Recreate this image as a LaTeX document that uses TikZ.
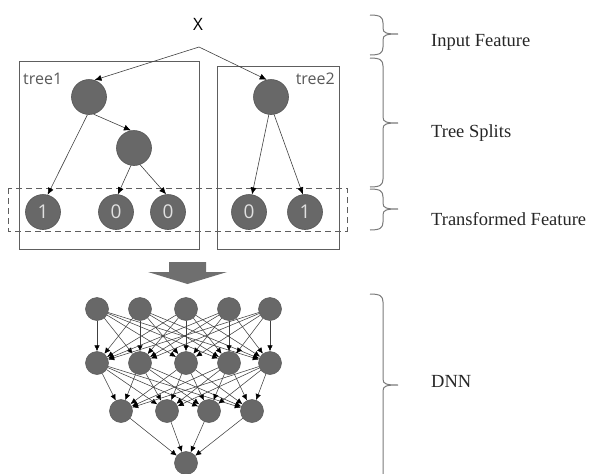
\documentclass[tikz,border=0pt]{standalone}
\usepackage{fontspec}
\setmainfont{Liberation Serif}
\newfontfamily\labelsans{Open Sans}
\usetikzlibrary{arrows.meta}

\definecolor{nodegray}{HTML}{686868}
\definecolor{rimgray}{HTML}{555555}
\definecolor{linegray}{HTML}{404040}
\definecolor{boxgray}{HTML}{5E5E5E}
\definecolor{bracegray}{HTML}{7A7A7A}

\tikzset{
  treenode/.style={circle, fill=nodegray, draw=rimgray, line width=0.6pt,
                   minimum size=35pt, inner sep=0pt, text=white!88!black,
                   font=\labelsans\fontsize{19}{20}\selectfont},
  dnnnode/.style={circle, fill=nodegray, draw=rimgray, line width=0.5pt,
                  minimum size=23pt, inner sep=0pt},
  treearrow/.style={draw=linegray, line width=0.6pt,
                    -{Latex[length=7pt,width=6pt,color=black]}},
  dnnarrow/.style={draw=linegray, line width=0.55pt,
                   -{Latex[length=6pt,width=5.5pt,color=black]}},
  treebox/.style={draw=boxgray, line width=1pt},
  featbox/.style={draw=boxgray, line width=0.9pt, dash pattern=on 6pt off 4pt},
  sidebrace/.style={draw=bracegray, line width=1pt},
  sidelabel/.style={anchor=base west, inner sep=0pt, text=black!85,
                    font=\fontsize{18.5}{22}\selectfont},
  boxlabel/.style={inner sep=0pt, text=black!65,
                   font=\labelsans\fontsize{16}{18}\selectfont}
}

% right-pointing curly bracket: top, middle (tip) and bottom heights
\newcommand\rightbracket[3]{%
  \draw[sidebrace] (370,#1) .. controls (380,#1) and (383,#1+2) .. (383,#1+8)
    -- (383,#2-6) .. controls (383,#2-1) and (386,#2) .. (398,#2)
    .. controls (386,#2) and (383,#2+1) .. (383,#2+6)
    -- (383,#3-8) .. controls (383,#3-2) and (380,#3) .. (370,#3);}

\begin{document}
\begin{tikzpicture}[x=1pt, y=-1pt]
  \useasboundingbox (0,0) rectangle (595,474);

  % ---- tree part ----
  \draw[treebox] (19,61) rectangle (199,249);
  \draw[treebox] (217,66) rectangle (339,249);
  \draw[featbox] (8,188) rectangle (347,231);

  \node[boxlabel, anchor=base west] (t1lab) at (23,84) {tree1};
  \node[boxlabel, anchor=base east] (t2lab) at (335,84) {tree2};

  \node[anchor=base, font=\labelsans\fontsize{17}{18}\selectfont] (xlab) at (198,30) {X};
  \coordinate (xin) at (199,47);

  \node[treenode] (r1) at (89,97) {};
  \node[treenode] (n2) at (134,148) {};
  \node[treenode] (r2) at (271,97) {};

  \node[treenode] (l1) at (43,212) {1};
  \node[treenode] (l2) at (116,212) {0};
  \node[treenode] (l3) at (168,212) {0};
  \node[treenode] (l4) at (249,212) {0};
  \node[treenode] (l5) at (305,212) {1};

  \draw[treearrow] (xin) -- (r1.72);
  \draw[treearrow] (xin) -- (r2.104);
  \draw[treearrow] (r1.-75) -- (n2.100);
  \draw[treearrow] (r1.-95) -- (l1.75);
  \draw[treearrow] (n2.-100) -- (l2.84);
  \draw[treearrow] (n2.-70) -- (l3.96);
  \draw[treearrow] (r2.-97) -- (l4.80);
  \draw[treearrow] (r2.-80) -- (l5.97);

  % ---- block arrow into the network ----
  \fill[nodegray!95!white] (169,262) -- (206,262) -- (206,272) -- (227,272)
        -- (187.5,284) -- (148,272) -- (169,272) -- cycle;

  % ---- DNN ----
  \foreach \i/\x in {1/97,2/140,3/186,4/229,5/270} {
    \node[dnnnode] (a\i) at (\x,309) {};
    \node[dnnnode] (b\i) at (\x,363) {};
  }
  \foreach \i/\x in {1/121,2/167,3/209,4/252} {
    \node[dnnnode] (c\i) at (\x,411) {};
  }
  \node[dnnnode] (d1) at (186,463) {};

  \foreach \i in {1,...,5} {
    \foreach \j in {1,...,5} {
      \draw[dnnarrow] (a\i) -- (b\j);
    }
  }
  \foreach \i in {1,...,5} {
    \foreach \j in {1,...,4} {
      \draw[dnnarrow] (b\i) -- (c\j);
    }
  }
  \foreach \i in {1,...,4} {
    \draw[dnnarrow] (c\i) -- (d1);
  }

  % ---- brackets and labels ----
  \rightbracket{15}{34}{55}
  \rightbracket{58}{123}{187}
  \rightbracket{189}{209}{230}
  \rightbracket{294}{385}{490}

  \node[sidelabel] (inlab) at (431,46) {Input Feature};
  \node[sidelabel] (tslab) at (431,137) {Tree Splits};
  \node[sidelabel] (tflab) at (431,225) {Transformed Feature};
  \node[sidelabel] (dnnlab) at (431,387) {DNN};
\end{tikzpicture}
\end{document}
